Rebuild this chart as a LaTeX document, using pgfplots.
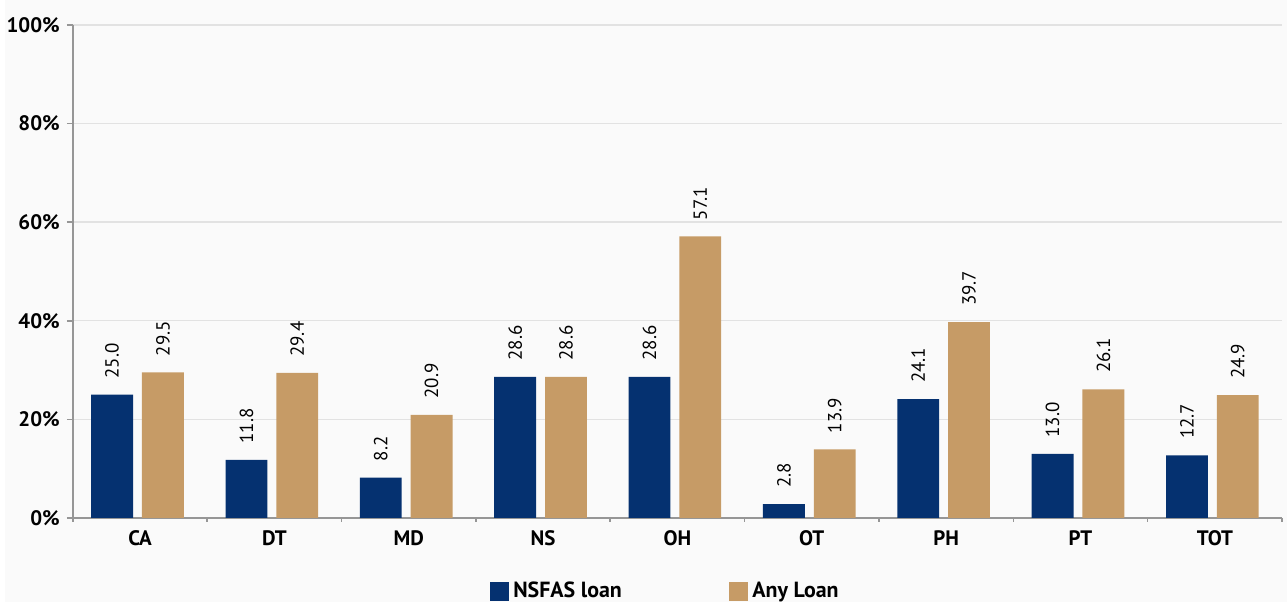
\documentclass[border=0pt]{standalone}
\usepackage{fontspec}
\setmainfont{PT Sans}
\usepackage{pgfplots}
\pgfplotsset{compat=1.18}
\definecolor{navy}{RGB}{5,49,112}
\definecolor{tanc}{RGB}{198,155,102}
\definecolor{bg}{RGB}{250,250,250}
\definecolor{axgray}{RGB}{150,150,150}
\definecolor{gridgray}{RGB}{226,226,226}
\pgfplotsset{/pgf/number format/assume math mode=true}
\pgfplotstableread{
x nsfas any
0 25.0 29.5
1 11.8 29.4
2 8.2 20.9
3 28.6 28.6
4 28.6 57.1
5 2.8 13.9
6 24.1 39.7
7 13.0 26.1
8 12.7 24.9
}\datatab
\begin{document}
\begin{tikzpicture}[x=1pt,y=1pt]
\fill[bg] (-34,-42) rectangle (609.5,260);
\begin{axis}[
 at={(0,0)}, anchor=south west, scale only axis,
 width=607pt, height=247.5pt,
 ymin=0, ymax=100, xmin=-0.5, xmax=8.5,
 axis x line*=bottom, axis y line*=left,
 axis line style={draw=axgray, line width=0.8pt},
 ytick={0,20,...,100},
 yticklabel={\pgfmathprintnumber{\tick}\%},
 y tick label style={font=\bfseries\fontsize{10.5}{12}\selectfont, text=black},
 ymajorgrids, grid style={draw=gridgray, line width=0.7pt},
 tick align=outside, major tick length=3pt, minor tick length=2pt,
 tick style={draw=axgray, line width=0.8pt},
 xtick={0,...,8},
 xticklabels={CA,DT,MD,NS,OH,OT,PH,PT,TOT},
 x tick label style={font=\bfseries\fontsize{10.5}{12}\selectfont, text=black},
 major x tick style={draw=none},
 minor xtick={-0.5,0.5,...,8.5},
 legend style={at={(axis description cs:0.491,-0.149)}, anchor=center, draw=none, fill=none,
   legend columns=2, /tikz/every even column/.append style={column sep=52pt},
   font=\bfseries\fontsize{11}{13}\selectfont},
 mylegend/.style={legend image code/.code={\fill[##1,draw=none] (0pt,-4.75pt) rectangle (9.5pt,4.75pt);}},
 nodes near coords={\pgfmathprintnumber[fixed,fixed zerofill,precision=1]{\pgfplotspointmeta}},
]
\addplot[ybar, mylegend, fill=navy, draw=none, bar width=21pt, bar shift=-14pt,
  nodes near coords style={xshift=-14pt, rotate=90, anchor=west, inner xsep=8pt, inner ysep=0pt, font=\fontsize{9.5}{11}\selectfont, text=black}]
  table[x=x,y=nsfas]{\datatab};
\addlegendentry{NSFAS loan}
\addplot[ybar, mylegend, fill=tanc, draw=none, bar width=21pt, bar shift=11.5pt,
  nodes near coords style={xshift=11.5pt, rotate=90, anchor=west, inner xsep=8pt, inner ysep=0pt, font=\fontsize{9.5}{11}\selectfont, text=black}]
  table[x=x,y=any]{\datatab};
\addlegendentry{Any Loan}
\end{axis}
\end{tikzpicture}
\end{document}
